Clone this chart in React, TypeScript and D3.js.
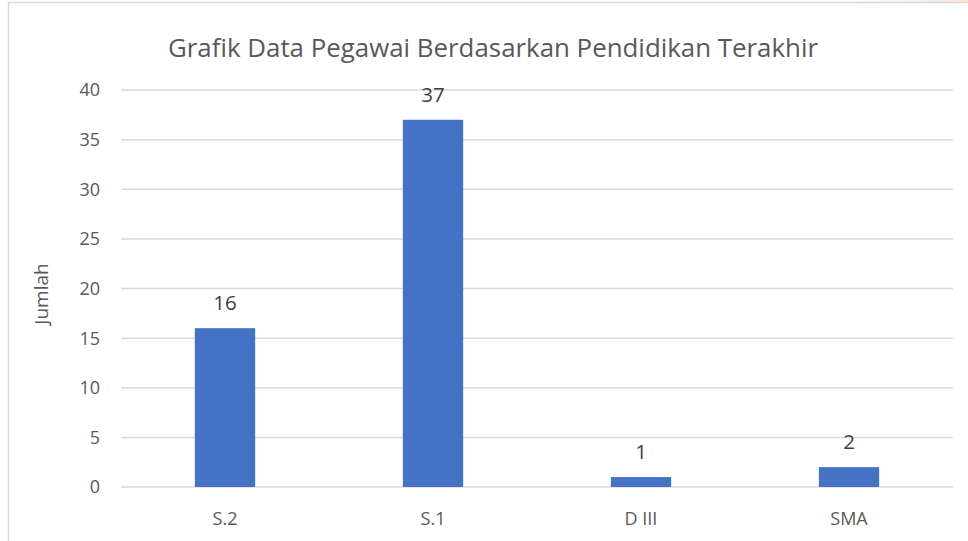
import React from "react";
import * as d3 from "d3";

const categories = ["S.2", "S.1", "D III", "SMA"];
const jumlah = [16, 37, 1, 2];
const yTicks = [0, 5, 10, 15, 20, 25, 30, 35, 40];

const W = 968;
const H = 541;
const FONT = "'Open Sans', 'Noto Sans', sans-serif";
const TEXT = "#595959";

export default function App() {
    const x = d3.scaleBand<string>().domain(categories).range([121, 953]).padding(0);
    const y = d3.scaleLinear().domain([0, 40]).range([487, 90]);
    const barW = x.bandwidth() * 0.29;

    return (
        <svg
            width={W}
            height={H}
            style={{position: "absolute", left: 0, top: 0, background: "#fff"}}
        >
            <defs>
                <linearGradient id="corner" x1="0" x2="1" y1="0" y2="0">
                    <stop offset="0" stopColor="#fde9d9" stopOpacity={0}/>
                    <stop offset="1" stopColor="#fbe0cc" stopOpacity={0.9}/>
                </linearGradient>
            </defs>
            <rect x={840} y={0} width={128} height={3} fill="url(#corner)"/>
            {/* chart frame */}
            <rect x={8.5} y={2.5} width={1000} height={600} fill="#fff" stroke="#d9d9d9" strokeWidth={1.5}/>

            <text x={493} y={57} textAnchor="middle" fontFamily={FONT} fontSize={26}
                  fill={TEXT} textLength={650} lengthAdjust="spacingAndGlyphs">
                Grafik Data Pegawai Berdasarkan Pendidikan Terakhir
            </text>

            {/* gridlines + y ticks */}
            {yTicks.map((t) => (
                <g key={t}>
                    <line x1={121} x2={953} y1={y(t)} y2={y(t)} stroke="#d9d9d9" strokeWidth={1.5}/>
                    <text x={100} y={y(t)} dy="0.36em" textAnchor="end" fontFamily={FONT}
                          fontSize={18} fill={TEXT}>{t}</text>
                </g>
            ))}

            <text transform="translate(48,294) rotate(-90)" textAnchor="middle" fontFamily={FONT}
                  fontSize={19} fill={TEXT}>Jumlah</text>

            {categories.map((c, i) => {
                const cx = (x(c) ?? 0) + x.bandwidth() / 2;
                return (
                    <g key={c}>
                        <rect x={cx - barW / 2} y={y(jumlah[i])} width={barW}
                              height={y(0) - y(jumlah[i])} fill="#4472C4"/>
                        <text x={cx} y={y(jumlah[i]) - 18} textAnchor="middle" fontFamily={FONT}
                              fontSize={20.5} fill="#404040">{jumlah[i]}</text>
                        <text x={cx} y={525} textAnchor="middle" fontFamily={FONT}
                              fontSize={18} fill={TEXT}>{c}</text>
                    </g>
                );
            })}
        </svg>
    );
}
